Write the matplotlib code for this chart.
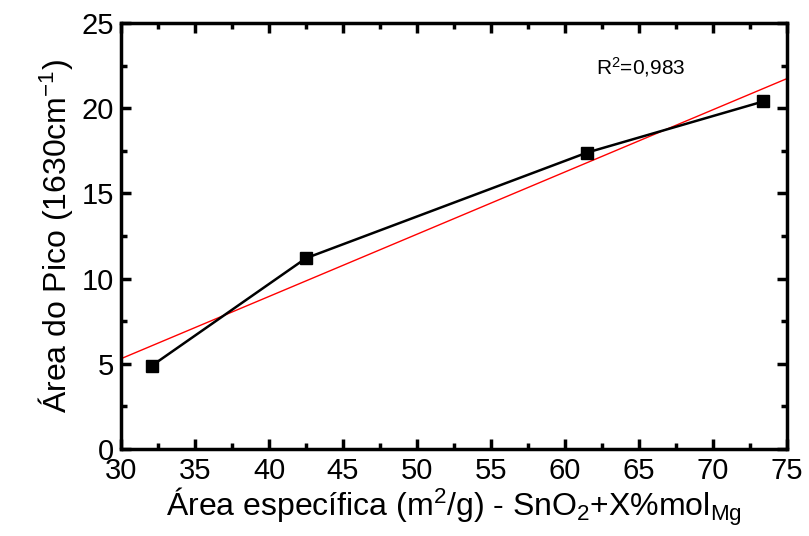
import numpy as np
import matplotlib.pyplot as plt

plt.rcParams['font.family'] = ['Liberation Sans', 'DejaVu Sans']
plt.rcParams['mathtext.fontset'] = 'custom'
plt.rcParams['mathtext.rm'] = 'Liberation Sans'
plt.rcParams['mathtext.it'] = 'Liberation Sans'

area_esp = [32.1, 42.5, 61.5, 73.4]
area_pico = [4.9, 11.2, 17.4, 20.4]

# linear fit
coef = np.polyfit(area_esp, area_pico, 1)
xfit = np.array([30, 75])
yfit = np.polyval(coef, xfit)

fig = plt.figure(figsize=(8.09, 5.36), dpi=100)
ax = fig.add_axes([0.1496, 0.1623, 0.8232, 0.7947])

ax.plot(xfit, yfit, 'r-', lw=1)
ax.plot(area_esp, area_pico, 'k-', lw=1.8, marker='s', ms=9)

ax.text(62.1, 22.0, 'R$^2$=0,983', fontsize=15)

ax.set_xlim(30, 75)
ax.set_ylim(0, 25)
ax.set_xticks(np.arange(30, 76, 5))
ax.set_yticks(np.arange(0, 26, 5))
ax.set_xticks(np.arange(32.5, 75, 5), minor=True)
ax.set_yticks(np.arange(2.5, 25, 5), minor=True)
ax.tick_params(which='both', direction='in', top=True, right=True, width=2.5,
               labelsize=21)
ax.tick_params(axis='x', pad=6)
ax.tick_params(axis='y', pad=5)
ax.tick_params(which='major', length=7)
ax.tick_params(which='minor', length=4)
for s in ax.spines.values():
    s.set_linewidth(2.5)

ax.set_xlabel('Área específica (m$^2$/g) - SnO$_2$+X%mol$_{\\mathrm{Mg}}$', fontsize=23, labelpad=0)
ax.set_ylabel('Área do Pico (1630cm$^{-1}$)', fontsize=23, labelpad=5)

plt.savefig('out.png', dpi=100)
